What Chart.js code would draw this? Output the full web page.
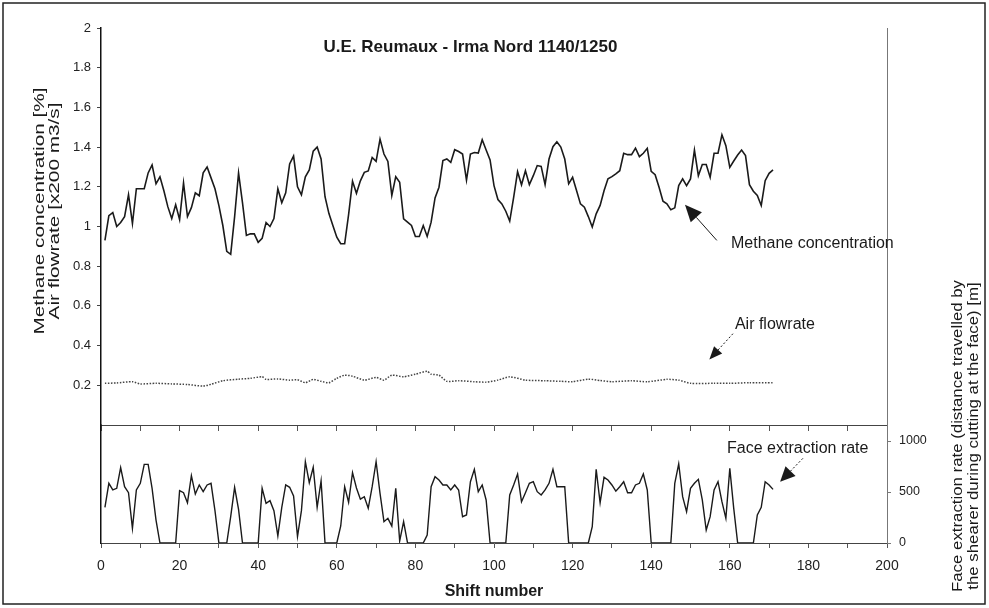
<!DOCTYPE html>
<html><head><meta charset="utf-8">
<script src="https://cdn.jsdelivr.net/npm/chart.js@4.4.1/dist/chart.umd.min.js"></script>
<style>html,body{margin:0;padding:0;background:#fff;}canvas{display:block;}</style>
</head><body>
<canvas id="c" width="989" height="608"></canvas>
<script>
// ---------------- DATA ----------------
const chartTitle = 'U.E. Reumaux - Irma Nord 1140/1250';
const leftAxisTitle = ['Methane concentration [%]', 'Air flowrate [x200 m3/s]'];
const rightAxisTitle = ['Face extraction rate (distance travelled by', 'the shearer during cutting at the face) [m]'];
const xAxisTitle = 'Shift number';
const seriesNames = ['Methane concentration', 'Air flowrate', 'Face extraction rate'];

const firstShift = 1;
const methane = [
  0.93, 1.055, 1.07, 1.0, 1.02, 1.05, 1.16, 1.015, 1.19, 1.19,
  1.19, 1.27, 1.31, 1.215, 1.25, 1.18, 1.10, 1.04, 1.11, 1.035,
  1.22, 1.05, 1.095, 1.17, 1.155, 1.27, 1.30, 1.245, 1.19, 1.105,
  1.005, 0.875, 0.86, 1.05, 1.27, 1.12, 0.955, 0.963, 0.963, 0.92,
  0.94, 1.02, 1.0, 1.04, 1.19, 1.12, 1.17, 1.315, 1.355, 1.20,
  1.16, 1.25, 1.285, 1.38, 1.40, 1.34, 1.15, 1.065, 1.005, 0.946,
  0.913, 0.913, 1.06, 1.228, 1.167, 1.23, 1.273, 1.28, 1.348, 1.328,
  1.44, 1.365, 1.328, 1.156, 1.251, 1.223, 1.039, 1.022, 1.005, 0.95,
  0.95, 1.005, 0.95, 1.022, 1.144, 1.198, 1.332, 1.34, 1.323, 1.387,
  1.378, 1.365, 1.234, 1.365, 1.373, 1.37, 1.437, 1.385, 1.335, 1.206,
  1.136, 1.114, 1.077, 1.027, 1.147, 1.276, 1.21, 1.281, 1.211, 1.256,
  1.307, 1.303, 1.211, 1.34, 1.402, 1.427, 1.40, 1.34, 1.215, 1.248,
  1.181, 1.114, 1.097, 1.05, 0.997, 1.064, 1.106, 1.18, 1.24, 1.251,
  1.265, 1.281, 1.369, 1.362, 1.362, 1.395, 1.352, 1.369, 1.394, 1.278,
  1.261, 1.198, 1.127, 1.114, 1.084, 1.094, 1.206, 1.24, 1.206, 1.24,
  1.385, 1.256, 1.312, 1.312, 1.248, 1.369, 1.369, 1.462, 1.407, 1.298,
  1.33, 1.36, 1.385, 1.357, 1.211, 1.178, 1.156, 1.106, 1.231, 1.268, 1.285
];
const faceRate = [
  350, 585, 520, 536, 739, 552, 493, 144, 520, 585,
  771, 771, 536, 225, 0, 0, 0, 0, 0, 513,
  493, 395, 660, 480, 569, 503, 569, 585, 317, 0,
  0, 0, 258, 546, 330, 0, 0, 0, 0, 0,
  536, 389, 415, 317, 69, 350, 569, 546, 461, 62,
  317, 797, 591, 742, 350, 608, 0, 0, 0, 0,
  167, 552, 400, 690, 540, 430, 454, 340, 552, 797,
  487, 209, 242, 167, 536, 20, 209, 0, 0, 0,
  0, 0, 78, 552, 650, 618, 569, 569, 520, 569,
  520, 258, 275, 601, 722, 503, 569, 422, 0, 0,
  0, 0, 0, 471, 569, 676, 405, 493, 585, 601,
  503, 471, 520, 585, 722, 552, 552, 552, 0, 0,
  0, 0, 0, 0, 160, 722, 395, 644, 618, 569,
  508, 552, 601, 493, 493, 569, 585, 676, 520, 0,
  0, 0, 0, 0, 0, 585, 775, 454, 307, 536,
  585, 624, 422, 127, 258, 520, 601, 405, 242, 732,
  340, 0, 0, 0, 0, 0, 275, 350, 601, 569, 526
];
const airShift = [1, 4, 8, 10, 14, 18, 22, 26, 28, 31, 35, 38, 41, 42, 45, 48, 50, 52, 54, 56, 58, 60, 62, 64, 67, 70, 72, 74, 77, 80, 83, 84, 86, 88, 91, 95, 98, 101, 104, 108, 113, 117, 120, 124, 127, 130, 135, 139, 144, 147, 150, 156, 160, 165, 171];
const airFlow = [0.21, 0.212, 0.218, 0.207, 0.21, 0.207, 0.204, 0.196, 0.205, 0.223, 0.231, 0.235, 0.243, 0.23, 0.232, 0.226, 0.228, 0.213, 0.23, 0.22, 0.213, 0.235, 0.251, 0.246, 0.226, 0.24, 0.226, 0.251, 0.243, 0.256, 0.271, 0.256, 0.251, 0.22, 0.223, 0.218, 0.216, 0.226, 0.243, 0.226, 0.223, 0.22, 0.218, 0.231, 0.224, 0.218, 0.223, 0.218, 0.23, 0.226, 0.21, 0.21, 0.21, 0.213, 0.213];

const xTickValues = [0, 10, 20, 30, 40, 50, 60, 70, 80, 90, 100, 110, 120, 130, 140, 150, 160, 170, 180, 190, 200];
const xTickLabels = ['0', '', '20', '', '40', '', '60', '', '80', '', '100', '', '120', '', '140', '', '160', '', '180', '', '200'];
const leftTickValues = [0.2, 0.4, 0.6, 0.8, 1, 1.2, 1.4, 1.6, 1.8, 2];
const leftTickLabels = ['0.2', '0.4', '0.6', '0.8', '1', '1.2', '1.4', '1.6', '1.8', '2'];
const rightTickValues = [0, 500, 1000];
const rightTickLabels = ['0', '500', '1000'];

// ---------------- DRAWING ----------------
const FONT = '"Liberation Sans", Arial, Helvetica, sans-serif';
const INK = '#1a1a1a';

function arrow(ctx, x0, y0, x1, y1, len, half, dash) {
  ctx.save();
  ctx.strokeStyle = INK; ctx.fillStyle = INK; ctx.lineWidth = 1;
  const a = Math.atan2(y1 - y0, x1 - x0);
  const bx = x1 - len * Math.cos(a), by = y1 - len * Math.sin(a);
  ctx.setLineDash(dash || []);
  ctx.beginPath(); ctx.moveTo(x0, y0); ctx.lineTo(bx, by); ctx.stroke();
  ctx.setLineDash([]);
  ctx.beginPath(); ctx.moveTo(x1, y1);
  ctx.lineTo(bx + half * Math.sin(a), by - half * Math.cos(a));
  ctx.lineTo(bx - half * Math.sin(a), by + half * Math.cos(a));
  ctx.closePath(); ctx.fill();
  ctx.restore();
}
function rotText(ctx, lines, cx, cy, gap, font, len) {
  ctx.save();
  ctx.font = font; ctx.fillStyle = INK;
  const s = len / ctx.measureText(lines[0]).width;
  ctx.translate(cx, cy); ctx.rotate(-Math.PI / 2);
  ctx.textAlign = 'center'; ctx.textBaseline = 'middle';
  lines.forEach((t, i) => { ctx.save(); ctx.translate(0, i * gap); ctx.scale(s, 1); ctx.fillText(t, 0, 0); ctx.restore(); });
  ctx.restore();
}

const decor = {
  id: 'decor',
  beforeDraw(chart) {
    const c = chart.ctx;
    c.save(); c.fillStyle = '#fff'; c.fillRect(0, 0, chart.width, chart.height); c.restore();
  },
  afterDraw(chart) {
    const ctx = chart.ctx;
    const {x, y, y2} = chart.scales;
    ctx.save();
    ctx.fillStyle = INK; ctx.textBaseline = 'middle';
    ctx.font = 'bold 17px ' + FONT; ctx.textAlign = 'center';
    ctx.fillText(chartTitle, x.getPixelForValue(94), y.getPixelForValue(1.905));
    ctx.font = '16px ' + FONT; ctx.textAlign = 'left';
    ctx.fillText(seriesNames[0], x.getPixelForValue(160.3), y.getPixelForValue(0.915));
    ctx.fillText(seriesNames[1], x.getPixelForValue(161.3), y.getPixelForValue(0.505));
    ctx.fillText(seriesNames[2], x.getPixelForValue(159.3), y2.getPixelForValue(930));
    ctx.restore();
    arrow(ctx, x.getPixelForValue(156.7), y.getPixelForValue(0.93), x.getPixelForValue(148.6), y.getPixelForValue(1.11), 17, 7.5);
    arrow(ctx, x.getPixelForValue(160.8), y.getPixelForValue(0.46), x.getPixelForValue(154.8), y.getPixelForValue(0.33), 13, 5.5, [2, 2]);
    arrow(ctx, x.getPixelForValue(178.6), y2.getPixelForValue(830), x.getPixelForValue(172.8), y2.getPixelForValue(600), 15, 7, [2, 2]);
    rotText(ctx, leftAxisTitle, 40, 211, 15, '15px ' + FONT, 247);
    rotText(ctx, rightAxisTitle, 958, 436, 16, '14px ' + FONT, 312);
    ctx.save(); ctx.strokeStyle = '#222'; ctx.lineWidth = 1.5;
    ctx.strokeRect(3, 3, 982, 601); ctx.restore();
  }
};

const setTicks = (vals) => (s) => { s.ticks = vals.map(v => ({value: v})); };

new Chart(document.getElementById('c'), {
  type: 'line',
  data: {
    datasets: [
      {label: seriesNames[0], data: methane.map((v, i) => ({x: firstShift + i, y: v})), xAxisID: 'x', yAxisID: 'y',
       borderColor: INK, borderWidth: 1.6, pointRadius: 0, tension: 0, fill: false},
      {label: seriesNames[1], data: airShift.map((s, i) => ({x: s, y: airFlow[i]})), xAxisID: 'x', yAxisID: 'y',
       borderColor: '#444', borderWidth: 1.5, borderDash: [1.5, 1.5], pointRadius: 0, tension: 0.2, fill: false},
      {label: seriesNames[2], data: faceRate.map((v, i) => ({x: firstShift + i, y: v})), xAxisID: 'x', yAxisID: 'y2',
       borderColor: INK, borderWidth: 1.4, pointRadius: 0, tension: 0, fill: false}
    ]
  },
  options: {
    responsive: false, animation: false, devicePixelRatio: 1,
    layout: {padding: {top: 28, left: 0, right: 0, bottom: 0}},
    plugins: {legend: {display: false}, tooltip: {enabled: false}},
    scales: {
      x: {type: 'linear', position: 'bottom', min: 0, max: 200,
        afterBuildTicks: setTicks(xTickValues), afterFit: s => { s.height = 65; },
        ticks: {autoSkip: false, maxRotation: 0, padding: 10, color: '#222', font: {size: 14, family: FONT}, callback: (v, i) => xTickLabels[i]},
        grid: {drawOnChartArea: false, drawTicks: true, tickLength: 5, color: '#555'},
        border: {display: true, color: '#444', width: 1},
        title: {display: true, text: xAxisTitle, color: INK, font: {size: 16, weight: 'bold', family: FONT}, padding: {top: 0, bottom: 7}}
      },
      xm: {type: 'linear', position: {y: 0}, min: 0, max: 200,
        afterBuildTicks: setTicks(xTickValues),
        ticks: {display: false},
        grid: {drawOnChartArea: false, drawTicks: true, tickLength: 5, color: '#555'},
        border: {display: true, color: '#444', width: 1}
      },
      y: {type: 'linear', position: 'left', stack: 'L', stackWeight: 397, weight: 1, min: 0, max: 2,
        afterBuildTicks: setTicks(leftTickValues), afterFit: s => { s.width = 101; },
        ticks: {padding: 6, color: '#222', font: {size: 13, family: FONT}, callback: (v, i) => leftTickLabels[i]},
        grid: {drawOnChartArea: false, tickLength: 4, color: '#444'},
        border: {display: true, color: '#111', width: 1.5}
      },
      yb: {type: 'linear', position: 'left', stack: 'L', stackWeight: 118, weight: 0, min: 0, max: 1,
        afterFit: s => { s.width = 101; },
        ticks: {display: false}, grid: {display: false},
        border: {display: true, color: '#111', width: 1.5}
      },
      y2: {type: 'linear', position: 'right', stack: 'R', stackWeight: 118, weight: 1, min: 0, max: 1157,
        afterBuildTicks: setTicks(rightTickValues), afterFit: s => { s.width = 102; },
        ticks: {padding: 8, color: '#222', font: {size: 12.5, family: FONT}, callback: (v, i) => rightTickLabels[i]},
        grid: {drawOnChartArea: false, tickLength: 4, color: '#777'},
        border: {display: true, color: '#777', width: 1, dash: [3, 2]}
      },
      y2t: {type: 'linear', position: 'right', stack: 'R', stackWeight: 397, weight: 0, min: 0, max: 1,
        afterFit: s => { s.width = 102; },
        ticks: {display: false}, grid: {display: false},
        border: {display: true, color: '#777', width: 1, dash: [3, 2]}
      }
    }
  },
  plugins: [decor]
});
</script>
</body></html>
